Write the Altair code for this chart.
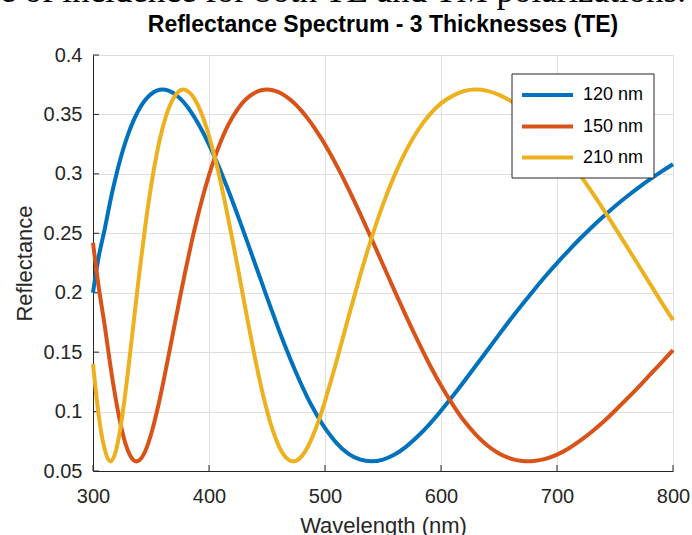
import altair as alt
import pandas as pd

# ---------------- data ----------------
wavelength = [300, 305, 310, 315, 320, 325, 330, 335, 340, 345,
              350, 355, 360, 365, 370, 375, 380, 385, 390, 395,
              400, 405, 410, 415, 420, 425, 430, 435, 440, 445,
              450, 455, 460, 465, 470, 475, 480, 485, 490, 495,
              500, 510, 520, 530, 540, 550, 560, 570, 580, 590,
              600, 610, 620, 630, 640, 650, 660, 670, 680, 690,
              700, 710, 720, 730, 740, 750, 760, 770, 780, 790, 800]

r_120 = [0.200, 0.2307, 0.2530, 0.2776, 0.2989, 0.3173, 0.3326, 0.3450, 0.3548, 0.3621,
         0.3671, 0.3700, 0.3709, 0.3700, 0.3675, 0.3635, 0.3581, 0.3513, 0.3435, 0.3346,
         0.3246, 0.3139, 0.3023, 0.2902, 0.2776, 0.2644, 0.2510, 0.2373, 0.2235, 0.2099,
         0.1961, 0.1827, 0.1694, 0.1567, 0.1445, 0.1329, 0.1219, 0.1116, 0.1024, 0.0937,
         0.0861, 0.0735, 0.0647, 0.0597, 0.0581, 0.0596, 0.0638, 0.0705, 0.0792, 0.0893,
         0.1007, 0.1128, 0.1255, 0.1385, 0.1516, 0.1647, 0.1776, 0.1900, 0.2021, 0.2138,
         0.2249, 0.2355, 0.2456, 0.2551, 0.2641, 0.2727, 0.2807, 0.2882, 0.2953, 0.3019, 0.3081]

r_150 = [0.242, 0.2043, 0.1731, 0.1385, 0.1084, 0.0841, 0.0674, 0.0591, 0.0591, 0.0666,
         0.0807, 0.0996, 0.1219, 0.1462, 0.1713, 0.1961, 0.2200, 0.2425, 0.2632, 0.2820,
         0.2989, 0.3139, 0.3268, 0.3380, 0.3472, 0.3548, 0.3609, 0.3654, 0.3685, 0.3703,
         0.3709, 0.3703, 0.3687, 0.3660, 0.3625, 0.3581, 0.3528, 0.3467, 0.3400, 0.3326,
         0.3246, 0.3071, 0.2877, 0.2671, 0.2456, 0.2235, 0.2015, 0.1801, 0.1594, 0.1398,
         0.1219, 0.1061, 0.0920, 0.0807, 0.0714, 0.0647, 0.0604, 0.0584, 0.0584, 0.0602,
         0.0638, 0.0690, 0.0755, 0.0830, 0.0914, 0.1007, 0.1104, 0.1204, 0.1308, 0.1412, 0.1516]

r_210 = [0.140, 0.0960, 0.0685, 0.0581, 0.0679, 0.0947, 0.1324, 0.1748, 0.2169, 0.2556,
         0.2893, 0.3170, 0.3387, 0.3545, 0.3648, 0.3701, 0.3705, 0.3666, 0.3587, 0.3471,
         0.3319, 0.3139, 0.2932, 0.2701, 0.2456, 0.2200, 0.1938, 0.1680, 0.1434, 0.1206,
         0.1007, 0.0841, 0.0713, 0.0628, 0.0586, 0.0586, 0.0625, 0.0700, 0.0807, 0.0937,
         0.1088, 0.1426, 0.1786, 0.2134, 0.2456, 0.2743, 0.2989, 0.3197, 0.3365, 0.3496,
         0.3593, 0.3656, 0.3697, 0.3709, 0.3698, 0.3665, 0.3614, 0.3544, 0.3458, 0.3358,
         0.3246, 0.3124, 0.2989, 0.2848, 0.2700, 0.2548, 0.2392, 0.2235, 0.2078, 0.1921, 0.1770]

series_names = ["120 nm", "150 nm", "210 nm"]
series_colors = ["#0072BD", "#D95319", "#EDB120"]
x_ticks = [300, 400, 500, 600, 700, 800]
y_ticks = [0.05, 0.1, 0.15, 0.2, 0.25, 0.3, 0.35, 0.4]

title_text = "Reflectance Spectrum - 3 Thicknesses (TE)"
top_text = "e of incidence for both TE and TM polarizations."
x_title = "Wavelength (nm)"
y_title = "Reflectance"

# ---------------- build table ----------------
rows = []
for name, vals in zip(series_names, [r_120, r_150, r_210]):
    for w, r in zip(wavelength, vals):
        rows.append({"wl": w, "R": r, "series": name})
df = pd.DataFrame(rows)

W, H = 580, 416
INK = "#262626"
GRID = "#dfdfdf"
FONT = "Liberation Sans"

x_scale = alt.Scale(domain=[300, 800], nice=False, zero=False)
y_scale = alt.Scale(domain=[0.05, 0.4], nice=False, zero=False)

x_axis = alt.Axis(values=x_ticks, grid=True, gridColor=GRID, gridWidth=1,
                  domainColor=INK, domainWidth=1, ticks=False, tickSize=0,
                  labelFont=FONT, labelFontSize=20, labelColor=INK, labelPadding=15.5,
                  labelFlush=False, labelOverlap=False,
                  title=x_title, titleFont=FONT, titleFontSize=22, titleFontWeight="normal",
                  titleColor=INK, titleX=290, titleY=61, titleBaseline="alphabetic",
                  titleAlign="center")
y_axis = alt.Axis(values=y_ticks, format="~g", grid=True, gridColor=GRID, gridWidth=1,
                  domainColor=INK, domainWidth=1, ticks=False, tickSize=0,
                  labelFont=FONT, labelFontSize=20, labelColor=INK, labelPadding=11,
                  labelOverlap=False,
                  title=y_title, titleFont=FONT, titleFontSize=22, titleFontWeight="normal",
                  titleColor=INK, titleX=-62, titleY=208, titleAngle=270,
                  titleBaseline="alphabetic", titleAlign="center")

lines = alt.Chart(df).mark_line(strokeWidth=4, interpolate="natural").encode(
    x=alt.X("wl:Q", scale=x_scale, axis=x_axis, title=x_title),
    y=alt.Y("R:Q", scale=y_scale, axis=y_axis, title=y_title),
    color=alt.Color("series:N", scale=alt.Scale(domain=series_names, range=series_colors),
                    legend=None),
)

xt = alt.Chart(pd.DataFrame({"v": x_ticks})).mark_rule(color=INK, strokeWidth=1).encode(
    x=alt.X("v:Q", scale=x_scale, axis=x_axis, title=x_title),
    y=alt.value(H), y2=alt.value(H - 6),
)
yt = alt.Chart(pd.DataFrame({"v": y_ticks})).mark_rule(color=INK, strokeWidth=1).encode(
    y=alt.Y("v:Q", scale=y_scale, axis=y_axis, title=y_title),
    x=alt.value(0), x2=alt.value(6),
)

one = pd.DataFrame({"k": [0]})
title_layer = alt.Chart(one).mark_text(
    text=title_text, font=FONT, fontSize=23, fontWeight="bold", color="#000000",
    align="center", baseline="alphabetic"
).encode(x=alt.value(290), y=alt.value(-23.5))

top_layer = alt.Chart(one).mark_text(
    text=top_text, font="Liberation Serif", fontSize=35, color="#000000",
    align="right", baseline="alphabetic"
).encode(x=alt.value(593), y=alt.value(-53))

# legend
legend_box = alt.Chart(one).mark_rect(fill="white", stroke=INK, strokeWidth=1).encode(
    x=alt.value(419), x2=alt.value(561), y=alt.value(19), y2=alt.value(123)
)
legend_layers = [legend_box]
row_y = [40, 71.5, 102.5]
for name, col, yy in zip(series_names, series_colors, row_y):
    legend_layers.append(
        alt.Chart(one).mark_rule(color=col, strokeWidth=4).encode(
            x=alt.value(429), x2=alt.value(480), y=alt.value(yy))
    )
    legend_layers.append(
        alt.Chart(one).mark_text(text=name, font=FONT, fontSize=18, color="#000000",
                                 align="left", baseline="middle").encode(
            x=alt.value(490), y=alt.value(yy))
    )

chart = alt.layer(xt, yt, lines, title_layer, top_layer, *legend_layers).properties(
    width=W, height=H,
    padding={"left": 93, "top": 55, "right": 19, "bottom": 64},
    autosize=alt.AutoSizeParams(type="none"),
    background="white",
).configure_view(strokeOpacity=0)

chart.save("out.html", embed_options={"renderer": "svg", "actions": False})
